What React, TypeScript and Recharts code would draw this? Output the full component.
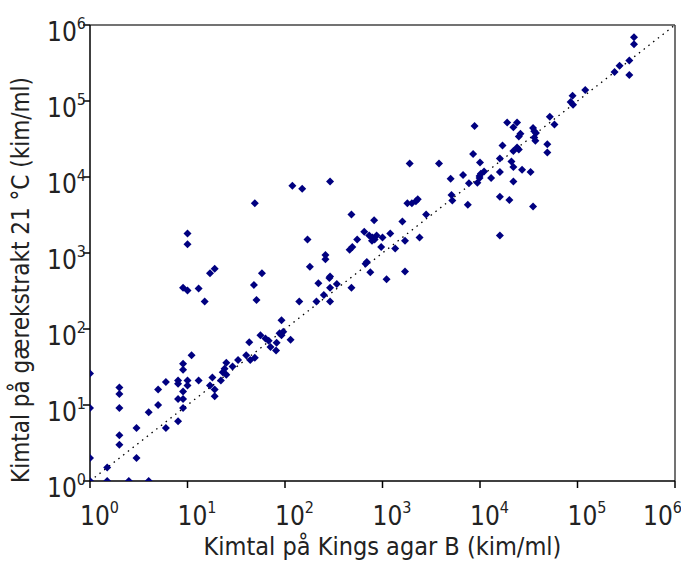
import React from "react";
import {
  ScatterChart,
  Scatter,
  XAxis,
  YAxis,
  ReferenceLine,
} from "recharts";

// kim/ml on Kings agar B (x) vs. yeast extract agar 21 °C (y)
const kingsB = [
  1, 1, 1, 1, 1.5, 1.5, 2.5, 4, 2, 2, 2, 2, 2, 3, 3, 4, 5, 5, 6, 6,
  8, 8, 8, 8, 9, 9, 9, 9, 9, 10, 10, 11, 13, 17, 18, 19, 19, 22, 23, 24,
  25, 25, 29, 33, 40, 43, 44, 49, 56, 63, 68, 71, 81, 82, 88, 10, 10, 9, 10, 13,
  15, 17, 19, 49, 58, 48, 51, 92, 96, 92, 114, 119, 150, 290, 1900, 3800, 170, 260, 260, 180,
  290, 285, 220, 290, 340, 480, 250, 210, 290, 140, 480, 820, 1600, 1800, 2000, 2200, 2300, 2800, 650, 550,
  730, 790, 830, 870, 780, 1000, 1200, 1700, 2400, 970, 1350, 490, 460, 690, 670, 750, 1700, 1100, 8800, 19000,
  24000, 22000, 35000, 36000, 37500, 26000, 25000, 36000, 37000, 52000, 58000, 17000, 49000, 49000, 24000, 22000, 25000, 8500, 16000, 10000,
  21000, 22000, 27000, 33000, 16000, 11000, 10200, 9900, 9900, 13000, 6700, 5000, 7700, 9400, 22000, 5100, 5200, 7500, 16000, 20000,
  35000, 16000, 380000, 380000, 340000, 270000, 240000, 340000, 120000, 89000, 85000, 90000,
];
const yeastExtract = [
  26, 9.1, 2, 1, 1.5, 1, 1, 1, 17, 14, 9.1, 4, 3, 5, 2, 8, 16, 10, 20, 5,
  21, 19, 12, 6.1, 35, 29, 15, 12, 9.1, 21, 18, 45, 21, 18, 23, 16, 13, 21, 27, 30,
  25, 36, 32, 39, 45, 67, 39, 42, 83, 75, 70, 58, 52, 66, 88, 1800, 1300, 350, 320, 340,
  230, 540, 620, 4500, 540, 380, 240, 130, 92, 83, 72, 7700, 7000, 8700, 15000, 15000, 1500, 940, 830, 660,
  490, 470, 400, 350, 390, 350, 280, 230, 230, 230, 3200, 2700, 2600, 4500, 4500, 4800, 5100, 3200, 1900, 1500,
  1700, 1600, 1500, 1700, 1450, 1600, 1800, 1450, 1600, 1200, 1150, 1200, 1100, 760, 720, 560, 570, 450, 47000, 52000,
  52000, 45000, 44000, 40000, 38000, 37000, 34000, 33000, 30000, 62000, 49000, 26000, 27000, 21000, 24500, 22000, 23000, 20000, 17500, 15500,
  16000, 13500, 12500, 11600, 11600, 11800, 11000, 10300, 9700, 9700, 10600, 9500, 8300, 8400, 8700, 5800, 4900, 4300, 5500, 5000,
  4100, 1700, 690000, 560000, 340000, 290000, 240000, 220000, 140000, 117000, 97000, 89000,
];

const decades = [1, 10, 100, 1000, 10000, 100000, 1000000];

const points = kingsB.map((x, i) => ({ x, y: yeastExtract[i] }));

const FONT = "'Liberation Sans Narrow', 'DejaVu Sans Condensed', 'Roboto Condensed', Arial, sans-serif";

function XTick({ x, y, payload }: any) {
  const exp = Math.round(Math.log10(payload.value));
  return (
    <text x={x - 10} y={y + 35} fontFamily={FONT} fontSize={26} fill="#222" textAnchor="start">
      <tspan>10</tspan>
      <tspan dy={-12} fontSize={16}>{exp}</tspan>
    </text>
  );
}

function YTick({ x, y, payload }: any) {
  const exp = Math.round(Math.log10(payload.value));
  return (
    <text x={x + 5} y={y + 16} fontFamily={FONT} fontSize={26} fill="#222" textAnchor="end">
      <tspan>10</tspan>
      <tspan dy={-12} fontSize={16}>{exp}</tspan>
    </text>
  );
}

function Diamond({ cx, cy }: any) {
  const r = 4;
  return (
    <polygon
      points={`${cx},${cy - r} ${cx + r},${cy} ${cx},${cy + r} ${cx - r},${cy}`}
      fill="#000080"
    />
  );
}

function YTitle() {
  return (
    <text
      x={29}
      y={280}
      transform="rotate(-90 29 280)"
      textAnchor="middle"
      fontFamily={FONT}
      fontSize={24}
      fill="#222"
    >
      Kimtal på gærekstrakt 21 °C (kim/ml)
    </text>
  );
}

export default function App() {
  return (
    <div style={{ position: "absolute", left: 0, top: 0, background: "#fff" }}>
      <ScatterChart width={681} height={561} margin={{ top: 25, right: 6, bottom: 0, left: 0 }}>
        <XAxis
          type="number"
          dataKey="x"
          scale="log"
          domain={[1, 1000000]}
          ticks={decades}
          tick={<XTick />}
          height={80}
          stroke="#000"
          strokeWidth={1.5}
          tickSize={7}
          allowDataOverflow
          label={{
            value: "Kimtal på Kings agar B (kim/ml)",
            position: "insideBottom",
            offset: 6,
            fill: "#222",
            fontSize: 25,
            fontFamily: FONT,
          }}
        />
        <YAxis
          type="number"
          dataKey="y"
          scale="log"
          domain={[1, 1000000]}
          ticks={decades}
          tick={<YTick />}
          width={90}
          stroke="#000"
          strokeWidth={1.5}
          tickSize={7}
          allowDataOverflow
          label={<YTitle />}
        />
        <ReferenceLine y={1000000} stroke="#444" strokeWidth={1.5} ifOverflow="visible" />
        <ReferenceLine x={1000000} stroke="#444" strokeWidth={1.5} ifOverflow="visible" />
        <ReferenceLine
          segment={[{ x: 1, y: 1 }, { x: 1000000, y: 1000000 }]}
          stroke="#000"
          strokeWidth={1.3}
          strokeDasharray="1.5 4.5"
        />
        <Scatter data={points} shape={<Diamond />} isAnimationActive={false} />
      </ScatterChart>
    </div>
  );
}
